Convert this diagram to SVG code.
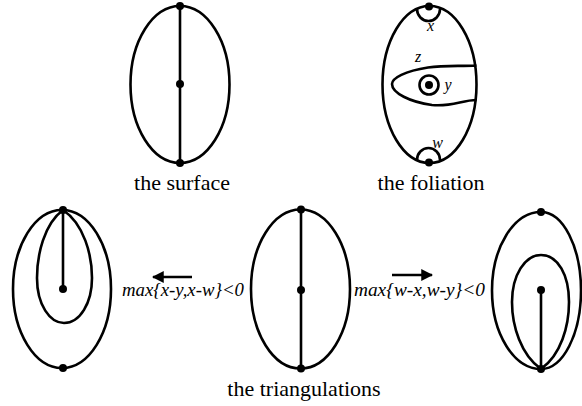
<svg xmlns="http://www.w3.org/2000/svg" width="582" height="406" viewBox="0 0 582 406">
<style>
.ln{fill:none;stroke:#000;stroke-width:2.6}
.dot{fill:#000}
.cap{font-family:"Liberation Serif","Times New Roman",serif;font-size:22px;fill:#000}
.it{font-family:"Liberation Serif","Times New Roman",serif;font-style:italic;font-size:19px;fill:#000}
.lab{font-family:"Liberation Serif","Times New Roman",serif;font-style:italic;font-size:16px;fill:#000}
</style>
<defs>
<marker id="ah" viewBox="0 0 10 10" refX="9" refY="5" markerWidth="4.6" markerHeight="4.6" orient="auto" markerUnits="strokeWidth">
<path d="M0,0 L10,5 L0,10 z" fill="#000"/>
</marker>
</defs>
<rect width="582" height="406" fill="#fff"/>
<g id="surface">
<ellipse class="ln" cx="180" cy="84.5" rx="49.5" ry="78.5"/>
<line class="ln" x1="180" y1="6" x2="180" y2="163"/>
<circle class="dot" cx="180" cy="6" r="4"/>
<circle class="dot" cx="180" cy="84" r="4"/>
<circle class="dot" cx="180" cy="163" r="4"/>
<text class="cap" x="182" y="190" text-anchor="middle">the surface</text>
</g>
<g id="foliation">
<ellipse class="ln" cx="429.5" cy="84.5" rx="47" ry="78.5"/>
<path class="ln" d="M417,9 A11.5,12 0 0 0 440,9"/>
<path class="ln" d="M417,160 A11.5,12 0 0 1 440,160"/>
<path class="ln" d="M476.5,65.5 C460,66.5 445,65 428,67.5 C405,71 392,78 392,84 C392,93 410,102 432,105 C452,107 462,100 476.5,100"/>
<circle class="ln" cx="429" cy="85" r="9.5"/>
<circle class="dot" cx="429" cy="85" r="4"/>
<circle class="dot" cx="429" cy="6.5" r="4"/>
<circle class="dot" cx="429" cy="162.5" r="4"/>
<text class="lab" x="430.5" y="31" text-anchor="middle">x</text>
<text class="lab" x="448" y="90" text-anchor="middle">y</text>
<text class="lab" x="418" y="62" text-anchor="middle">z</text>
<text class="lab" x="437.5" y="148" text-anchor="middle">w</text>
<text class="cap" x="431" y="190" text-anchor="middle">the foliation</text>
</g>
<g id="tri-left">
<ellipse class="ln" cx="62" cy="289" rx="49" ry="79"/>
<path class="ln" d="M63,210 C44,224 37,255 37,278 C37,305 50,323 64,323 C80,323 92,303 92,278 C92,255 84,224 63,210 Z"/>
<line class="ln" x1="63" y1="210" x2="63" y2="289"/>
<circle class="dot" cx="63" cy="210" r="4"/>
<circle class="dot" cx="63" cy="289" r="4"/>
<circle class="dot" cx="63" cy="368" r="4"/>
</g>
<g id="tri-mid">
<ellipse class="ln" cx="300.5" cy="289" rx="49.5" ry="79.5"/>
<line class="ln" x1="301" y1="209.5" x2="301" y2="368.5"/>
<circle class="dot" cx="301" cy="209.5" r="4"/>
<circle class="dot" cx="301" cy="290" r="4"/>
<circle class="dot" cx="301" cy="368.5" r="4"/>
</g>
<g id="tri-right">
<path class="ln" d="M541,212 A49,78.5 0 0 0 541,369 A40,78.5 0 0 0 541,212 Z"/>
<path class="ln" d="M541,369 C521,355 512,326 512,302 C512,275 525,255 541,255 C558,255 569,275 569,302 C569,326 561,355 541,369 Z"/>
<line class="ln" x1="541" y1="290" x2="541" y2="369"/>
<circle class="dot" cx="541" cy="212" r="4"/>
<circle class="dot" cx="541" cy="290" r="4"/>
<circle class="dot" cx="541" cy="369" r="4"/>
</g>
<g id="connectors">
<line class="ln" x1="192" y1="277" x2="153" y2="277" marker-end="url(#ah)"/>
<line class="ln" x1="392" y1="275" x2="432" y2="275" marker-end="url(#ah)"/>
</g>
<g id="labels">
<text class="it" x="122" y="296" textLength="122" lengthAdjust="spacingAndGlyphs">max{x-y,x-w}&lt;0</text>
<text class="it" x="354" y="296" textLength="131" lengthAdjust="spacingAndGlyphs">max{w-x,w-y}&lt;0</text>
<text class="cap" x="304" y="396" text-anchor="middle">the triangulations</text>
</g>
</svg>
